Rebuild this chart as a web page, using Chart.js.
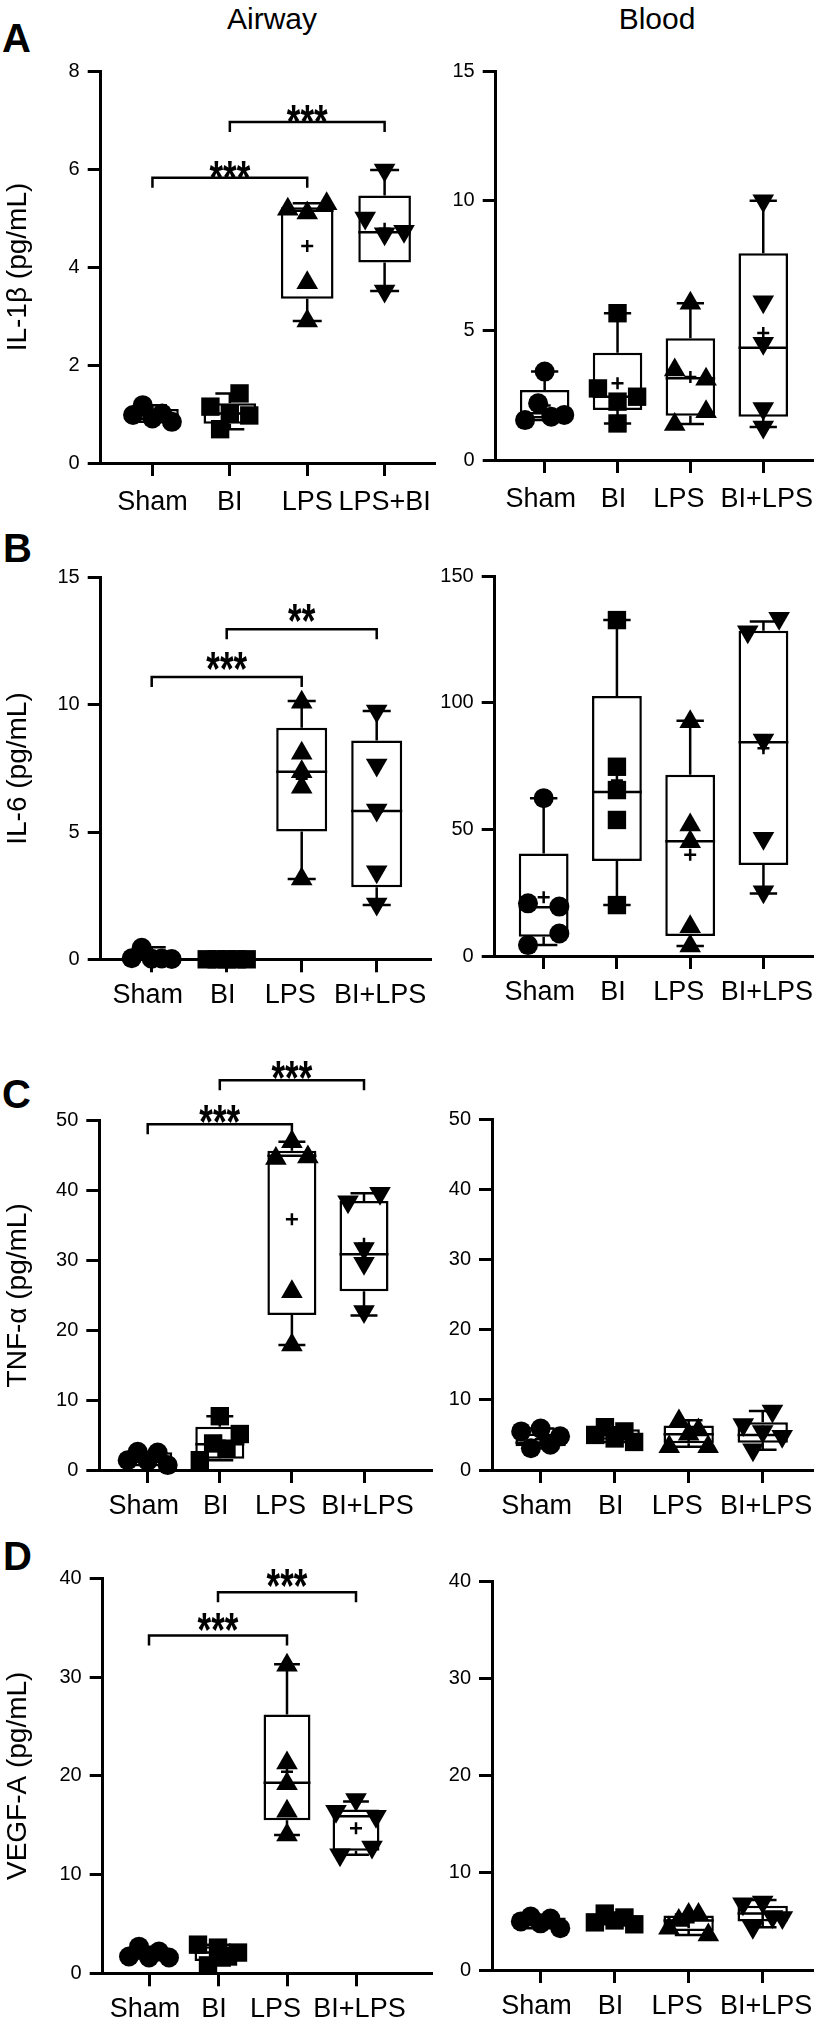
<!DOCTYPE html>
<html>
<head>
<meta charset="utf-8">
<script src="https://cdn.jsdelivr.net/npm/chart.js@4.4.0/dist/chart.umd.min.js"></script>
<style>
  html, body { margin: 0; padding: 0; background: #fff; }
  body { width: 826px; height: 2030px; position: relative; overflow: hidden;
         font-family: "Liberation Sans", Arial, sans-serif; color: #000; }
  canvas { position: absolute; }
  .lbl { position: absolute; white-space: nowrap; }
  .letter { font-weight: bold; font-size: 40px; line-height: 40px; }
  .col { font-size: 30px; line-height: 30px; transform: translateX(-50%); }
</style>
</head>
<body>
<div class="lbl letter" style="left:2px;top:18px">A</div>
<div class="lbl letter" style="left:3px;top:528px">B</div>
<div class="lbl letter" style="left:2px;top:1074px">C</div>
<div class="lbl letter" style="left:3px;top:1536px">D</div>
<div class="lbl col" style="left:272px;top:4px">Airway</div>
<div class="lbl col" style="left:657px;top:4px">Blood</div>

<script>
// ── Données ────────────────────────────────────────────────────
const catsA = ['Sham', 'BI', 'LPS', 'LPS+BI'];
const cats = ['Sham', 'BI', 'LPS', 'BI+LPS'];

// box rows: [min, q1, median, q3, max, mean]
const il1bAirwayTicks = [0, 2, 4, 6, 8];
const il1bAirwayPts = [
  [0.98, 1.18, 0.91, 1.01, 0.84],
  [1.15, 0.69, 1.01, 1.42, 0.97],
  [5.18, 5.1, 5.29, 3.68, 2.9],
  [5.0, 5.98, 4.68, 4.73, 3.51]
];
const il1bAirwayBox = [
  [0.84, 0.88, 0.98, 1.1, 1.18, 0.98],
  [0.69, 0.8, 1.01, 1.22, 1.42, 1.05],
  [2.9, 3.35, 5.15, 5.22, 5.3, 4.43],
  [3.51, 4.09, 4.71, 5.46, 5.98, 4.78]
];
const il1bAirwaySig = [[0, 2, 5.82, '***'], [1, 3, 6.96, '***']];

const il1bBloodTicks = [0, 5, 10, 15];
const il1bBloodPts = [
  [1.54, 3.41, 2.19, 1.67, 1.74],
  [2.76, 5.66, 2.25, 2.44, 1.41],
  [3.47, 6.04, 3.11, 1.37, 1.86],
  [10.0, 6.1, 4.5, 1.99, 1.27]
];
const il1bBloodBox = [
  [1.54, 1.6, 1.8, 2.7, 3.41, 2.1],
  [1.41, 1.93, 2.44, 4.14, 5.66, 2.96],
  [1.39, 1.71, 3.15, 4.69, 6.04, 3.2],
  [1.27, 1.67, 4.33, 7.97, 10.0, 4.9]
];

const il6AirwayTicks = [0, 5, 10, 15];
const il6AirwayPts = [
  [0.04, 0.45, 0.02, 0.03, 0.01],
  [0, 0, 0, 0, 0],
  [10.1, 8.1, 7.37, 6.76, 3.16],
  [9.76, 7.64, 5.87, 3.44, 2.17]
];
const il6AirwayBox = [
  [0, 0.01, 0.03, 0.25, 0.47, 0.11],
  [0, 0, 0, 0, 0, 0],
  [3.16, 5.02, 7.37, 9.1, 10.15, 7.1],
  [2.13, 2.83, 5.83, 8.6, 9.76, 5.8]
];
const il6AirwaySig = [[0, 2, 11.1, '***'], [1, 3, 12.97, '**']];

const il6BloodTicks = [0, 50, 100, 150];
const il6BloodPts = [
  [62.3, 20.8, 19.5, 4.3, 8.9],
  [132.6, 74.7, 65.5, 53.7, 20.1],
  [92.5, 51.7, 45.1, 11.5, 3.9],
  [128, 133.3, 85.3, 46.5, 25.4]
];
const il6BloodBox = [
  [4.3, 7.6, 19.2, 40.5, 62.3, 23.2],
  [20.1, 37.5, 64.7, 102.6, 132.6, 69.3],
  [3.9, 7.9, 45.3, 71.5, 92.9, 40.0],
  [24.7, 35.9, 84.4, 128.4, 132, 82]
];

const tnfAirwayTicks = [0, 10, 20, 30, 40, 50];
const tnfAirwayPts = [
  [1.4, 2.6, 1.3, 2.5, 0.7],
  [1.4, 7.7, 3.8, 3.05, 5.15],
  [44.6, 47, 44.8, 25.5, 17.9],
  [38.4, 39.6, 31.7, 29.6, 22.7]
];
const tnfAirwayBox = [
  [0.7, 1.0, 1.4, 2.55, 2.6, 1.7],
  [1.4, 1.6, 3.67, 6.2, 7.7, 4.2],
  [17.9, 22.2, 45.0, 45.7, 47, 35.9],
  [22.1, 25.6, 30.9, 38.5, 39.6, 32.4]
];
const tnfAirwaySig = [[0, 2, 49.5, '***'], [1, 3, 55.8, '***']];

const tnfBloodTicks = [0, 10, 20, 30, 40, 50];
const tnfBloodPts = [
  [5.5, 3.1, 5.9, 3.6, 4.8],
  [5.0, 6.1, 4.5, 5.5, 4.0],
  [3.3, 7.0, 5.1, 5.7, 3.3],
  [6.5, 2.9, 5.5, 8.4, 4.8]
];
const tnfBloodBox = [
  [3.1, 3.4, 3.9, 5.2, 5.9, 4.4],
  [4.0, 4.3, 5.0, 5.8, 6.1, 5.0],
  [3.3, 3.8, 5.1, 6.35, 7.1, 4.9],
  [2.9, 3.9, 5.0, 6.8, 8.4, 5.5]
];

const vegfAirwayTicks = [0, 10, 20, 30, 40];
const vegfAirwayPts = [
  [1.7, 2.7, 1.6, 2.2, 1.6],
  [2.9, 0.8, 2.6, 1.7, 2.1],
  [31.2, 21.3, 19.2, 16.4, 14.0],
  [16.4, 12.0, 17.6, 15.9, 12.8]
];
const vegfAirwayBox = [
  [1.5, 1.6, 1.7, 2.4, 2.7, 1.96],
  [0.8, 1.25, 2.1, 2.75, 2.9, 2.0],
  [14.0, 15.5, 19.3, 26.2, 31.3, 20.4],
  [12.0, 12.4, 15.9, 16.6, 17.4, 14.7]
];
const vegfAirwaySig = [[0, 2, 34.2, '***'], [1, 3, 38.6, '***']];

const vegfBloodTicks = [0, 10, 20, 30, 40];
const vegfBloodPts = [
  [5.0, 5.5, 4.8, 5.3, 4.3],
  [4.9, 5.8, 5.1, 5.4, 4.7],
  [4.3, 5.1, 5.7, 5.7, 3.6],
  [6.8, 4.4, 7.0, 5.5, 5.4]
];
const vegfBloodBox = [
  [4.3, 4.55, 5.0, 5.4, 5.5, 4.98],
  [4.7, 4.8, 5.1, 5.6, 5.8, 5.2],
  [3.6, 4.0, 5.1, 5.6, 5.7, 4.9],
  [4.4, 5.0, 5.8, 6.6, 7.2, 5.8]
];

// ── Mise en page ───────────────────────────────────────────────
const MARKERS = [
  { style: 'circle', radius: 10, rotation: 0 },
  { style: 'rect', radius: 13, rotation: 0 },
  { style: 'triangle', radius: 12.5, rotation: 0 },
  { style: 'triangle', radius: 12.5, rotation: 180 }
];
const LINK_PX = 14;
const BOX_FRAC = 0.68;
const NBSP = '\u00a0';
// espaces insécables autour des libellés : >0 après, <0 avant (décale le texte visible)
const LABEL_NUDGE = [0, 0, 2, -2];

const panels = [
  { id: 'a1', L: 0, W: 448, left: 100.7, top: 71, bottom: 463, right: 445, c0: 154, step: 79.7,
    labelPad: 10, labelOffset: 0, nudge: false, starGap: 10, title: 'IL-1β (pg/mL)', cats: catsA,
    ticks: il1bAirwayTicks, pts: il1bAirwayPts, box: il1bAirwayBox, sig: il1bAirwaySig },
  { id: 'a2', L: 440, W: 386, left: 495.7, top: 71, bottom: 460, right: 819.7, c0: 545.7, step: 74.4,
    labelPad: 10, labelOffset: -4, nudge: true, starGap: 10, title: null, cats: cats,
    ticks: il1bBloodTicks, pts: il1bBloodPts, box: il1bBloodBox, sig: null },
  { id: 'b1', L: 0, W: 448, left: 100.7, top: 577.7, bottom: 959.3, right: 431, c0: 151.7, step: 75,
    labelPad: 7, labelOffset: -4, nudge: true, starGap: 18, title: 'IL-6 (pg/mL)', cats: cats,
    ticks: il6AirwayTicks, pts: il6AirwayPts, box: il6AirwayBox, sig: il6AirwaySig },
  { id: 'b2', L: 440, W: 386, left: 494.7, top: 576, bottom: 956, right: 819.7, c0: 544.7, step: 74.8,
    labelPad: 7, labelOffset: -4, nudge: true, starGap: 18, title: null, cats: cats,
    ticks: il6BloodTicks, pts: il6BloodPts, box: il6BloodBox, sig: null },
  { id: 'c1', L: 0, W: 448, left: 99.3, top: 1120.7, bottom: 1470, right: 432, c0: 147.7, step: 72.1,
    labelPad: 7, labelOffset: -4, nudge: true, starGap: 12, title: 'TNF-α (pg/mL)', cats: cats,
    ticks: tnfAirwayTicks, pts: tnfAirwayPts, box: tnfAirwayBox, sig: tnfAirwaySig },
  { id: 'c2', L: 440, W: 386, left: 492, top: 1119.3, bottom: 1470, right: 822, c0: 542, step: 76.1,
    labelPad: 7, labelOffset: -4, nudge: true, starGap: 12, title: null, cats: cats,
    ticks: tnfBloodTicks, pts: tnfBloodPts, box: tnfBloodBox, sig: null },
  { id: 'd1', L: 0, W: 448, left: 102.7, top: 1578.3, bottom: 1973.3, right: 432, c0: 149, step: 69,
    labelPad: 7, labelOffset: -4, nudge: true, starGap: 16, title: 'VEGF-A (pg/mL)', cats: cats,
    ticks: vegfAirwayTicks, pts: vegfAirwayPts, box: vegfAirwayBox, sig: vegfAirwaySig },
  { id: 'd2', L: 440, W: 386, left: 492, top: 1581, bottom: 1970, right: 818, c0: 541.3, step: 75.2,
    labelPad: 7, labelOffset: -4, nudge: true, starGap: 16, title: null, cats: cats,
    ticks: vegfBloodTicks, pts: vegfBloodPts, box: vegfBloodBox, sig: null }
];

Chart.defaults.font.family = '"Liberation Sans", Arial, sans-serif';
Chart.defaults.color = '#000';

// ── Dispersion des points (façon GraphPad) ─────────────────────
function swarm(values, pxPerUnit, stepPx) {
  const order = values.map((v, i) => i).sort((a, b) => values[a] - values[b]);
  const offsets = values.map(() => 0);
  const clusters = [];
  let cur = [order[0]];
  for (let k = 1; k < order.length; k++) {
    const gap = (values[order[k]] - values[order[k - 1]]) * pxPerUnit;
    if (gap < LINK_PX) cur.push(order[k]);
    else { clusters.push(cur); cur = [order[k]]; }
  }
  clusters.push(cur);
  clusters.forEach(c => {
    if (c.length < 2) return;
    c.sort((a, b) => a - b);
    const span = Math.min(40, (c.length - 1) * 32);
    c.forEach((idx, j) => { offsets[idx] = (-span / 2 + span * j / (c.length - 1)) / stepPx; });
  });
  return offsets;
}

function catLabel(p, i) {
  const txt = p.cats[i];
  if (!p.nudge || txt === undefined) return txt;
  const n = LABEL_NUDGE[i];
  return n > 0 ? txt + NBSP.repeat(n) : NBSP.repeat(-n) + txt;
}

// ── Moustaches, médianes, moyennes, crochets ───────────────────
function boxPlugin(p) {
  return {
    id: 'box_' + p.id,
    afterDatasetDraw(chart, args) {
      if (args.index !== 0) return;
      const ctx = chart.ctx, xs = chart.scales.x, ys = chart.scales.y;
      const bars = args.meta.data;
      ctx.save();
      ctx.strokeStyle = '#000';
      ctx.lineWidth = 2.5;
      p.box.forEach((b, i) => {
        const [mn, q1, md, q3, mx, mean] = b;
        const cx = xs.getPixelForValue(i);
        const half = bars[i].width / 2;
        const cap = half * 0.55;
        const y = v => ys.getPixelForValue(v);
        ctx.beginPath();
        ctx.moveTo(cx, y(q3)); ctx.lineTo(cx, y(mx));
        ctx.moveTo(cx - cap, y(mx)); ctx.lineTo(cx + cap, y(mx));
        ctx.moveTo(cx, y(q1)); ctx.lineTo(cx, y(mn));
        ctx.moveTo(cx - cap, y(mn)); ctx.lineTo(cx + cap, y(mn));
        ctx.moveTo(cx - half, y(md)); ctx.lineTo(cx + half, y(md));
        ctx.moveTo(cx - 6, y(mean)); ctx.lineTo(cx + 6, y(mean));
        ctx.moveTo(cx, y(mean) - 6); ctx.lineTo(cx, y(mean) + 6);
        ctx.stroke();
      });
      ctx.restore();
    },
    afterDraw(chart) {
      if (!p.sig) return;
      const ctx = chart.ctx, xs = chart.scales.x, ys = chart.scales.y;
      ctx.save();
      ctx.strokeStyle = '#000';
      ctx.fillStyle = '#000';
      ctx.lineWidth = 2.5;
      p.sig.forEach(([a, b, v, txt]) => {
        const x1 = xs.getPixelForValue(a), x2 = xs.getPixelForValue(b), yy = ys.getPixelForValue(v);
        ctx.beginPath();
        ctx.moveTo(x1, yy + 10); ctx.lineTo(x1, yy); ctx.lineTo(x2, yy); ctx.lineTo(x2, yy + 10);
        ctx.stroke();
        ctx.save();
        ctx.translate((x1 + x2) / 2, yy - p.starGap);
        ctx.scale(1, 1.35);
        ctx.font = 'bold 35px "Liberation Sans", Arial, sans-serif';
        ctx.textAlign = 'center';
        ctx.textBaseline = 'alphabetic';
        ctx.fillText(txt, 0, 0.55 * 35);
        ctx.restore();
      });
      ctx.restore();
    }
  };
}

// ── Construction des graphiques ────────────────────────────────
function build(p) {
  const T = Math.max(0, Math.round(p.top - 80));
  const H = Math.round(p.bottom + 58) - T;
  const canvas = document.createElement('canvas');
  canvas.width = p.W; canvas.height = H;
  canvas.style.left = p.L + 'px'; canvas.style.top = T + 'px';
  document.body.appendChild(canvas);

  const yMax = p.ticks[p.ticks.length - 1];
  const pxPerUnit = (p.bottom - p.top) / yMax;
  const xMin = (p.left - p.c0) / p.step;
  const xMax = (p.right - p.c0) / p.step;

  const datasets = [{
    type: 'bar',
    data: p.box.map((b, i) => ({ x: i, y: [b[1], b[3]] })),
    backgroundColor: '#fff',
    borderColor: '#000',
    borderWidth: 2.5,
    borderSkipped: false,
    categoryPercentage: 1,
    barPercentage: BOX_FRAC,
    order: 2,
    clip: false
  }];
  p.pts.forEach((vals, i) => {
    const off = swarm(vals, pxPerUnit, p.step);
    const m = MARKERS[i];
    datasets.push({
      type: 'scatter',
      data: vals.map((v, j) => ({ x: i + off[j], y: v })),
      pointStyle: m.style,
      pointRadius: m.radius,
      pointRotation: m.rotation,
      backgroundColor: '#000',
      borderWidth: 0,
      order: 1,
      clip: false
    });
  });

  new Chart(canvas, {
    type: 'bar',
    data: { datasets },
    plugins: [boxPlugin(p)],
    options: {
      responsive: false,
      devicePixelRatio: 1,
      animation: false,
      events: [],
      layout: { padding: { left: 0, bottom: 0, top: p.top - T, right: p.L + p.W - p.right } },
      plugins: { legend: { display: false }, tooltip: { enabled: false } },
      scales: {
        x: {
          type: 'linear',
          min: xMin, max: xMax,
          offset: false,
          grid: { display: true, offset: false, drawOnChartArea: false, drawTicks: true,
                  tickLength: 13, tickWidth: 3, color: '#000', tickColor: '#000' },
          border: { display: true, color: '#000', width: 3 },
          ticks: { font: { size: 27 }, padding: p.labelPad, autoSkip: false, labelOffset: p.labelOffset,
                   maxRotation: 0, minRotation: 0, callback: v => catLabel(p, v) },
          afterBuildTicks: s => { s.ticks = p.cats.map((c, i) => ({ value: i })); },
          afterFit: s => { s.height = T + H - p.bottom; s.paddingLeft = 0; s.paddingRight = 0; }
        },
        y: {
          type: 'linear',
          min: 0, max: yMax,
          grid: { display: true, drawOnChartArea: false, drawTicks: true,
                  tickLength: 13, tickWidth: 3, color: '#000', tickColor: '#000' },
          border: { display: true, color: '#000', width: 3 },
          ticks: { font: { size: 20 }, padding: 8 },
          title: { display: !!p.title, text: p.title || '', font: { size: 28 }, padding: { top: 1, bottom: 0 } },
          afterBuildTicks: s => { s.ticks = p.ticks.map(v => ({ value: v })); },
          afterFit: s => { s.width = p.left - p.L; s.paddingTop = 0; s.paddingBottom = 0; }
        }
      }
    }
  });
}

document.addEventListener('DOMContentLoaded', () => {
  panels.forEach(build);
});
</script>
</body>
</html>
